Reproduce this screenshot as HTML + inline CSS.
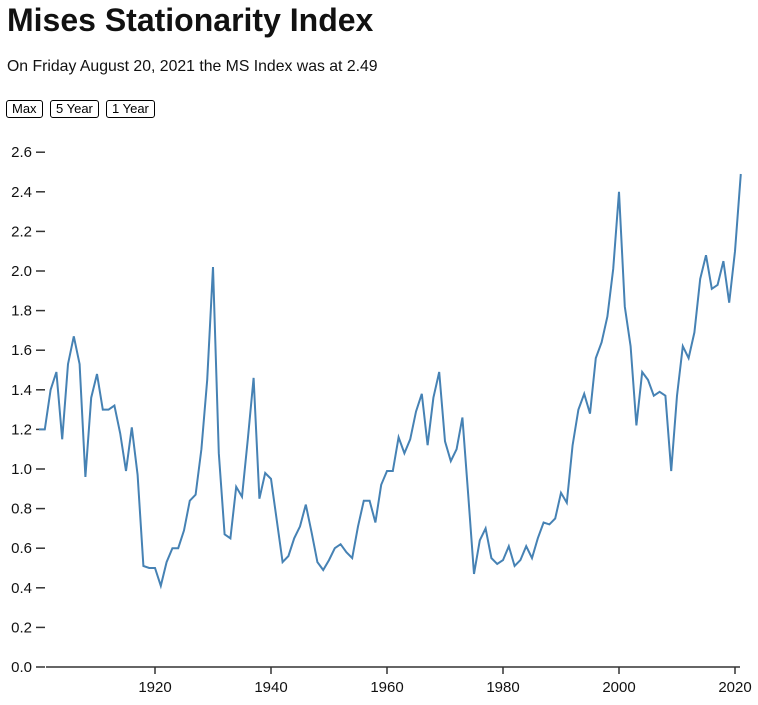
<!DOCTYPE html>
<html><head><meta charset="utf-8"><style>
body{margin:0;background:#fff;font-family:"Liberation Sans",Arial,sans-serif;width:758px;height:705px;overflow:hidden}
h1{position:absolute;left:7px;top:1px;margin:0;font-size:32px;font-weight:bold;line-height:38px;color:#111}
p{position:absolute;left:7px;top:58px;margin:0;font-size:15.8px;color:#111}
.b{position:absolute;top:100px;height:16px;border:1px solid #000;border-radius:3px;font-size:13px;line-height:16px;padding:0 5px;background:#fff}
</style></head><body>
<h1>Mises Stationarity Index</h1>
<p>On Friday August 20, 2021 the MS Index was at 2.49</p>
<div class="b" style="left:6px">Max</div>
<div class="b" style="left:50px">5 Year</div>
<div class="b" style="left:106px">1 Year</div>
<svg id="s" width="758" height="705" style="position:absolute;left:0;top:0" font-family="Liberation Sans, Arial, sans-serif" font-size="15"></svg>
<script>
var v=[1.2,1.2,1.4,1.49,1.15,1.53,1.67,1.53,0.96,1.36,1.48,1.3,1.3,1.32,1.18,0.99,1.21,0.97,0.51,0.5,0.5,0.41,0.53,0.6,0.6,0.69,0.84,0.87,1.1,1.45,2.02,1.08,0.67,0.65,0.91,0.86,1.15,1.46,0.85,0.98,0.95,0.74,0.53,0.56,0.65,0.71,0.82,0.68,0.53,0.49,0.54,0.6,0.62,0.58,0.55,0.71,0.84,0.84,0.73,0.92,0.99,0.99,1.16,1.08,1.15,1.29,1.38,1.12,1.36,1.49,1.14,1.04,1.1,1.26,0.87,0.47,0.64,0.7,0.55,0.52,0.54,0.61,0.51,0.54,0.61,0.55,0.65,0.73,0.72,0.75,0.88,0.83,1.12,1.3,1.38,1.28,1.56,1.64,1.77,2.01,2.4,1.82,1.62,1.22,1.49,1.45,1.37,1.39,1.37,0.99,1.37,1.62,1.56,1.69,1.96,2.08,1.91,1.93,2.05,1.84,2.1,2.49];
function X(y){return 155+(y-1920)*5.8}
function Y(d){return 667-d*198}
var h='';
for(var i=0;i<=13;i++){var y=Y(i*0.2);h+='<line x1="36" x2="45" y1="'+y+'" y2="'+y+'" stroke="#333" stroke-width="1.5"/><text x="32" y="'+(y+5)+'" text-anchor="end" fill="#111">'+(i*0.2).toFixed(1)+'</text>';}
h+='<line x1="46" x2="740" y1="667" y2="667" stroke="#333" stroke-width="1.5"/>';
for(var yr=1920;yr<=2020;yr+=20){var x=X(yr);h+='<line x1="'+x+'" x2="'+x+'" y1="667" y2="674" stroke="#333" stroke-width="1.5"/><text x="'+x+'" y="692" text-anchor="middle" fill="#111">'+yr+'</text>';}
var d='';for(i=0;i<v.length;i++){d+=(i?'L':'M')+X(1900+i).toFixed(1)+','+Y(v[i]).toFixed(1);}
h+='<path d="'+d+'" fill="none" stroke="steelblue" stroke-width="2"/>';
document.getElementById('s').innerHTML=h;
</script>
</body></html>
